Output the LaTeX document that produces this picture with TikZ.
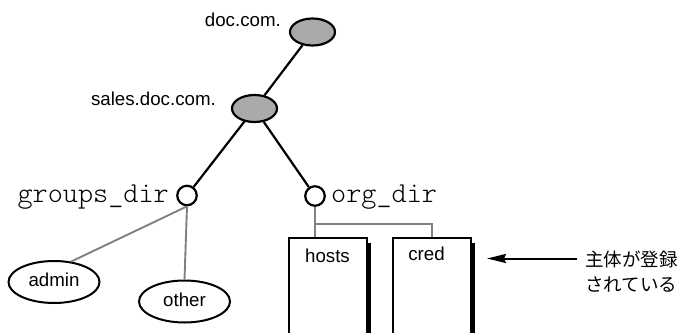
\documentclass[tikz,border=0pt]{standalone}
\usepackage{fontspec}
\setmainfont{Liberation Sans}
\setmonofont{lmmonolt10-regular.otf}
\newfontfamily\jpfont{Noto Sans CJK JP}
\usetikzlibrary{shapes.geometric,shadows,arrows.meta}

\tikzset{
  x=1pt, y=-1pt,
  sanslabel/.style={inner sep=0pt, font=\fontsize{18.7}{22}\selectfont},
  monolabel/.style={inner sep=0pt, font=\ttfamily\fontsize{28.8}{32}\selectfont},
  jplabel/.style={inner sep=0pt, font=\jpfont\fontsize{18.5}{24}\selectfont},
  domainnode/.style={ellipse, draw, line width=2.2pt, fill={rgb,255:red,170;green,170;blue,170},
                 minimum width=45pt, minimum height=27pt, inner sep=0pt},
  dirnode/.style={circle, draw, line width=2.2pt, fill=white, minimum size=19.5pt, inner sep=0pt},
  groupnode/.style={ellipse, draw, line width=2pt, fill=white,
                    minimum width=91pt, minimum height=42pt, inner sep=0pt},
  tablebox/.style={rectangle, draw, line width=1.8pt, fill=white, anchor=north west,
                   minimum width=78pt, minimum height=120pt, inner sep=0pt,
                   drop shadow={shadow xshift=4.5pt, shadow yshift=-5pt, fill=black, opacity=1}},
  treeline/.style={line width=2.2pt, black},
  memberline/.style={line width=1.9pt, color={rgb,255:red,128;green,128;blue,128}},
}

\begin{document}
\begin{tikzpicture}
  \useasboundingbox (0,0) rectangle (680,332);
  \clip (0,0) rectangle (680,332);

  % domains
  \node[domainnode] (doc) at (312.5,32) {};
  \node[domainnode] (sales) at (254.5,108.5) {};
  \node[sanslabel, anchor=base east] (doclabel) at (281,27) {doc.com.};
  \node[sanslabel, anchor=base east] (saleslabel) at (216,105) {sales.doc.com.};

  % directories
  \node[dirnode] (groups) at (187,195.5) {};
  \node[dirnode] (org) at (315,196) {};
  \node[monolabel, anchor=base east] (groupslabel) at (169,202) {groups\_dir};
  \node[monolabel, anchor=base west] (orglabel) at (331,202) {org\_dir};

  \draw[treeline] (doc) -- (sales);
  \draw[treeline] (sales) -- (groups);
  \draw[treeline] (sales) -- (org);

  % groups
  \node[groupnode] (admin) at (54,282) {};
  \node[groupnode] (other) at (184.5,301.5) {};
  \node[sanslabel] (adminlabel) at (54,280) {admin};
  \node[sanslabel] (otherlabel) at (184.5,299.5) {other};
  \draw[memberline] (groups.south) -- (admin.50);
  \draw[memberline] (groups.south) -- (other.north);

  % tables
  \node[tablebox] (hostsbox) at (288,237) {};
  \node[tablebox] (credbox) at (392,237) {};
  \node[sanslabel, anchor=base] (hosts) at (327.5,262) {hosts};
  \node[sanslabel, anchor=base] (cred) at (426.5,260) {cred};

  \coordinate (split) at (315,224);
  \draw[memberline] (org.south) -- (org.south |- hostsbox.north);
  \draw[memberline] (split) -| (credbox.north);

  % note
  \node[jplabel, anchor=base west] (note1) at (585,266) {主体が登録};
  \node[jplabel, anchor=base west] (note2) at (585,291.5) {されている};
  \coordinate (arrowtip) at (487,258.5);
  \draw[line width=2pt, -{Stealth[length=19pt,width=9pt,inset=2pt]}] (note1.west |- arrowtip) ++(-8,0) -- (arrowtip);
\end{tikzpicture}
\end{document}
